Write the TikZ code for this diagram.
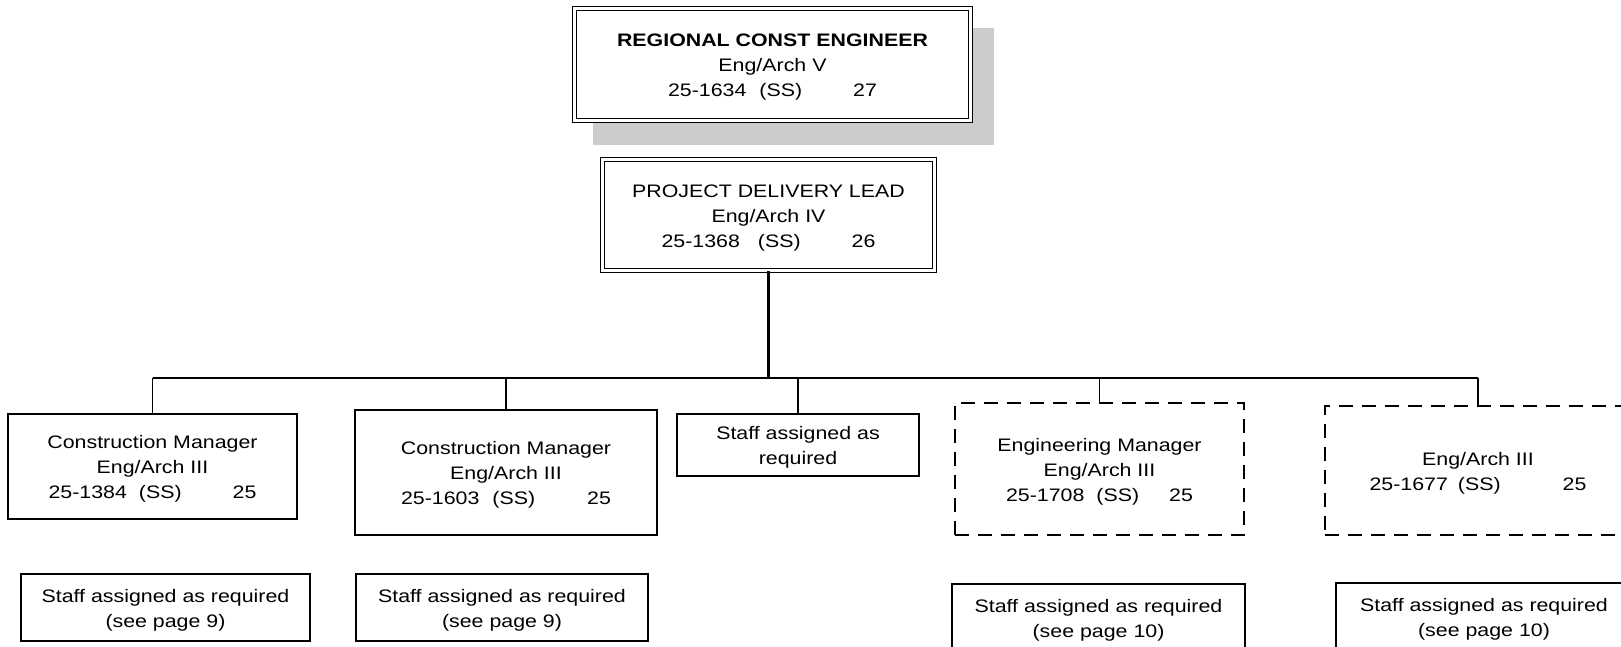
\documentclass[tikz,border=0pt]{standalone}
\usepackage{fontspec}
\newfontfamily\orgfont[FakeStretch=1.18]{Liberation Sans}
\newcommand\gapx[1]{\hspace{#1pt}}
\newcommand\tp{\rule{0pt}{18.5pt}}
\begin{document}
\begin{tikzpicture}[x=1pt,y=-1pt,
  txt/.style={align=center,inner sep=0pt,font=\orgfont\fontsize{18.1}{25}\selectfont},
  dblbox/.style={txt,draw,double,line width=1.3pt,double distance=2.4pt,fill=white},
  box/.style={txt,draw,line width=1.6pt,fill=white},
  dbox/.style={box,dash pattern=on 14pt off 9pt},
  conn/.style={line width=1.5pt},
  bus/.style={line width=2pt},
  trunk/.style={line width=2.6pt},
  shade/.style={fill=black!20,draw=none}]
\useasboundingbox (0,0) rectangle (1621,647);
\clip (0,0) rectangle (1621,647);
% shadow of the top box
\fill[shade] (593,28) rectangle (994,145);
% top
\node[dblbox,minimum width=396pt,minimum height=112pt] (rce) at (772.5,64.5)
  {\tp\bfseries REGIONAL CONST ENGINEER\\Eng/Arch V\\25-1634\gapx{13}(SS)\gapx{51}27};
\node[dblbox,minimum width=332pt,minimum height=111pt] (pdl) at (768.5,215)
  {\tp PROJECT DELIVERY LEAD\\Eng/Arch IV\\25-1368\gapx{18}(SS)\gapx{51}26};
% second row
\node[box,minimum width=289pt,minimum height=105pt] (cm1) at (152.5,466.5)
  {\tp Construction Manager\\Eng/Arch III\\25-1384\gapx{12}(SS)\gapx{51}25};
\node[box,minimum width=302pt,minimum height=125pt] (cm2) at (506,472.5)
  {\tp Construction Manager\\Eng/Arch III\\25-1603\gapx{13}(SS)\gapx{52}25};
\node[box,minimum width=242pt,minimum height=62pt] (sar) at (798,445)
  {\tp Staff assigned as\\required};
\node[dbox,minimum width=289pt,minimum height=132pt] (em) at (1099.5,469)
  {\tp Engineering Manager\\Eng/Arch III\\25-1708\gapx{12}(SS)\gapx{30}25};
\node[dbox,minimum width=306pt,minimum height=129pt] (ea) at (1478,470.5)
  {\tp Eng/Arch III\\25-1677\gapx{10}(SS)\gapx{62}25};
% third row
\node[box,minimum width=289pt,minimum height=67pt] (st1) at (165.5,607.5)
  {\tp Staff assigned as required\\(see page 9)};
\node[box,minimum width=292pt,minimum height=67pt] (st2) at (502,607.5)
  {\tp Staff assigned as required\\(see page 9)};
\node[box,minimum width=293pt,minimum height=67pt] (st4) at (1098.5,617.5)
  {\tp Staff assigned as required\\(see page 10)};
\node[box,minimum width=296pt,minimum height=67pt] (st5) at (1484,616.5)
  {\tp Staff assigned as required\\(see page 10)};
% connectors
\coordinate (busc) at (768.5,378);
\coordinate (busl) at (152.5,378);
\coordinate (busr) at (1478,378);
\draw[trunk] (pdl.south) -- (busc);
\draw[bus] (busl) -- (busr);
\draw[conn] (busl) -- (cm1.north);
\draw[conn] (cm2.north |- busc) -- (cm2.north);
\draw[conn] (sar.north |- busc) -- (sar.north);
\draw[conn] (em.north |- busc) -- (em.north);
\draw[conn] (busr) -- (ea.north);
\end{tikzpicture}
\end{document}
